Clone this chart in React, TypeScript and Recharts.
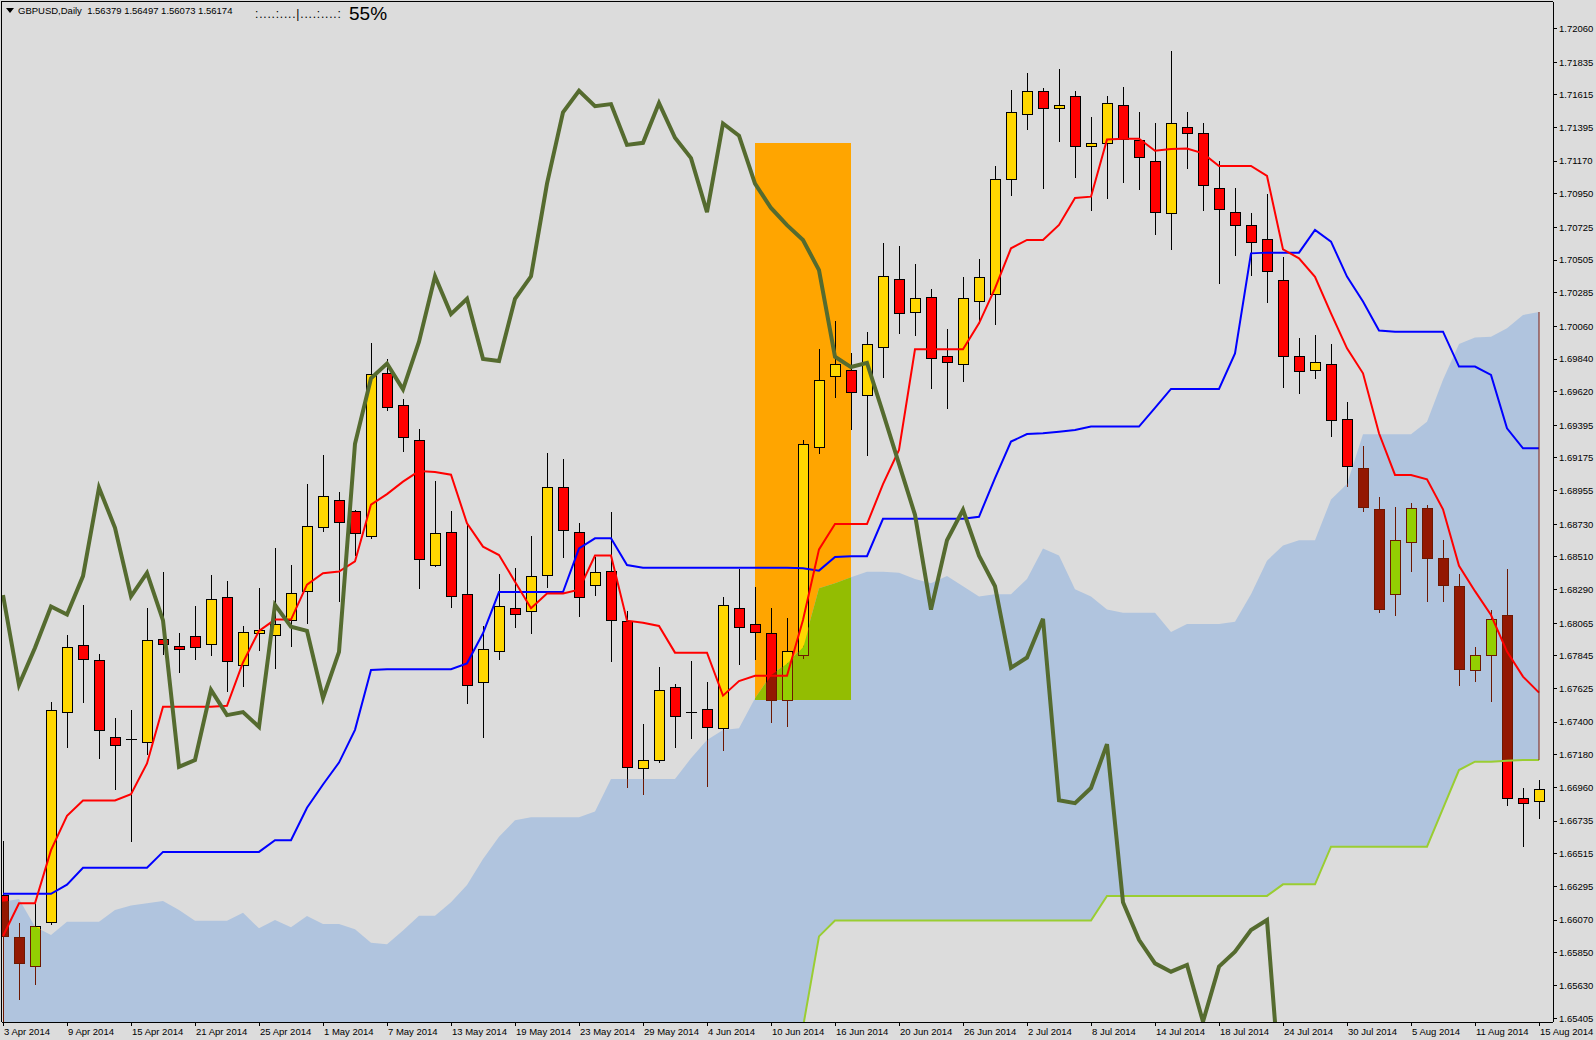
import { ComposedChart, Area, Bar, Line, XAxis, YAxis, ReferenceLine } from 'recharts';

// GBPUSD daily, 3 Apr 2014 .. 15 Aug 2014 (one row per trading day)
const tickLabels = [
  '3 Apr 2014', '9 Apr 2014', '15 Apr 2014', '21 Apr 2014', '25 Apr 2014', '1 May 2014', '7 May 2014',
  '13 May 2014', '19 May 2014', '23 May 2014', '29 May 2014', '4 Jun 2014', '10 Jun 2014', '16 Jun 2014',
  '20 Jun 2014', '26 Jun 2014', '2 Jul 2014', '8 Jul 2014', '14 Jul 2014', '18 Jul 2014', '24 Jul 2014',
  '30 Jul 2014', '5 Aug 2014', '11 Aug 2014', '15 Aug 2014'
];

const priceTicks = [
  1.7206, 1.71835, 1.71615, 1.71395, 1.7117, 1.7095, 1.70725, 1.70505, 1.70285, 1.7006, 1.6984,
  1.6962, 1.69395, 1.69175, 1.68955, 1.6873, 1.6851, 1.6829, 1.68065, 1.67845, 1.67625, 1.674,
  1.6718, 1.6696, 1.66735, 1.66515, 1.66295, 1.6607, 1.6585, 1.6563, 1.65405
];

const open = [
  1.66238, 1.65954, 1.65763, 1.66056, 1.67467, 1.6792, 1.67815, 1.67298, 1.67284, 1.67264,
  1.67957, 1.67911, 1.67976, 1.67928, 1.68239, 1.67787, 1.67999, 1.67985, 1.68084, 1.68282,
  1.68712, 1.68895, 1.68816, 1.68649, 1.69744, 1.69531, 1.69294, 1.68454, 1.68675, 1.68259,
  1.67667, 1.67876, 1.68165, 1.68144, 1.68386, 1.68978, 1.68675, 1.68319, 1.68413, 1.68079,
  1.67089, 1.67143, 1.67634, 1.67463, 1.67486, 1.67358, 1.68165, 1.68057, 1.67997, 1.67549,
  1.67853, 1.69247, 1.69724, 1.69766, 1.69596, 1.69921, 1.70376, 1.70154, 1.70255, 1.69858,
  1.69807, 1.70228, 1.70275, 1.71048, 1.71484, 1.71639, 1.71525, 1.71605, 1.71269, 1.7129,
  1.71545, 1.71312, 1.71169, 1.70819, 1.71402, 1.71357, 1.70987, 1.70826, 1.70739, 1.70644,
  1.70369, 1.69858, 1.69764, 1.69804, 1.69435, 1.69105, 1.68834, 1.68259, 1.68608, 1.68841,
  1.68505, 1.68313, 1.67752, 1.67848, 1.6812, 1.66888, 1.6687
];
const high = [
  1.66603, 1.6605, 1.66193, 1.67532, 1.67985, 1.68189, 1.67857, 1.67428, 1.67481, 1.68169,
  1.68409, 1.67999, 1.6818, 1.68389, 1.68347, 1.68047, 1.68302, 1.6857, 1.68457, 1.69,
  1.69192, 1.68946, 1.68826, 1.69945, 1.69843, 1.6957, 1.6937, 1.6902, 1.68819, 1.68725,
  1.68046, 1.68395, 1.68433, 1.68651, 1.69211, 1.69168, 1.68736, 1.68512, 1.68812, 1.68147,
  1.67387, 1.6777, 1.67654, 1.67811, 1.6767, 1.68243, 1.68431, 1.68308, 1.68167, 1.68098,
  1.69296, 1.69907, 1.70096, 1.69878, 1.70019, 1.7062, 1.706, 1.70479, 1.70311, 1.70042,
  1.70391, 1.70512, 1.71135, 1.71646, 1.71762, 1.71661, 1.71789, 1.71641, 1.71467, 1.71608,
  1.71668, 1.71502, 1.71426, 1.7191, 1.715, 1.71426, 1.71171, 1.70989, 1.70821, 1.70949,
  1.70526, 1.69981, 1.70004, 1.69941, 1.69551, 1.69255, 1.68916, 1.68848, 1.68875, 1.6886,
  1.68622, 1.68396, 1.67902, 1.68156, 1.68429, 1.66955, 1.67011
];
const low = [
  1.653, 1.65541, 1.6564, 1.6604, 1.67235, 1.67532, 1.67156, 1.66952, 1.66599, 1.67185,
  1.67857, 1.67736, 1.67824, 1.67849, 1.67611, 1.67645, 1.67886, 1.67767, 1.67914, 1.68064,
  1.68686, 1.68217, 1.68522, 1.68635, 1.69498, 1.69224, 1.68303, 1.6845, 1.68176, 1.67526,
  1.67302, 1.67826, 1.68041, 1.67997, 1.68306, 1.68507, 1.68115, 1.68254, 1.67813, 1.66966,
  1.66915, 1.67134, 1.67235, 1.67295, 1.66973, 1.67215, 1.6779, 1.67826, 1.674, 1.67375,
  1.6783, 1.69206, 1.69587, 1.69368, 1.69195, 1.69722, 1.70017, 1.70004, 1.69648, 1.69513,
  1.69695, 1.7008, 1.70078, 1.70945, 1.71384, 1.70992, 1.71307, 1.71066, 1.70842, 1.70924,
  1.71032, 1.70985, 1.70683, 1.70582, 1.71126, 1.70844, 1.70353, 1.70541, 1.70407, 1.70225,
  1.69654, 1.6961, 1.69715, 1.69325, 1.6899, 1.6882, 1.68142, 1.68122, 1.68416, 1.68211,
  1.68211, 1.67649, 1.67677, 1.6754, 1.66843, 1.66568, 1.66754
];
const close = [
  1.65965, 1.65779, 1.66028, 1.67481, 1.67908, 1.67826, 1.67346, 1.67247, 1.67288, 1.67951,
  1.67928, 1.67894, 1.67908, 1.68225, 1.67809, 1.68005, 1.68019, 1.68061, 1.68265, 1.68717,
  1.68918, 1.68748, 1.68669, 1.69738, 1.69518, 1.69314, 1.68494, 1.68669, 1.68245, 1.67647,
  1.67889, 1.68178, 1.68124, 1.6838, 1.68978, 1.68689, 1.68238, 1.68407, 1.68084, 1.67096,
  1.67143, 1.67614, 1.67441, 1.67465, 1.67365, 1.68185, 1.68037, 1.68003, 1.67551, 1.67876,
  1.69267, 1.69697, 1.69804, 1.69618, 1.69939, 1.70396, 1.70147, 1.70248, 1.69845, 1.69818,
  1.70248, 1.70389, 1.71048, 1.71498, 1.71639, 1.71525, 1.71545, 1.71269, 1.7129, 1.71558,
  1.71321, 1.71196, 1.70826, 1.71424, 1.71357, 1.71007, 1.70846, 1.70739, 1.70624, 1.70429,
  1.69858, 1.69757, 1.69818, 1.6943, 1.69121, 1.68845, 1.68163, 1.68622, 1.68841, 1.68505,
  1.6832, 1.67759, 1.67848, 1.68094, 1.66888, 1.66855, 1.66949
];

const tenkan = [
  1.65963, 1.66183, 1.66183, 1.6654, 1.6677, 1.66873, 1.66873, 1.66873, 1.66916, 1.67122,
  1.67504, 1.67504, 1.67504, 1.67504, 1.6751, 1.67801, 1.68013, 1.68089, 1.68089, 1.68324,
  1.68401, 1.68412, 1.6848, 1.68862, 1.68932, 1.69016, 1.69087, 1.69081, 1.69063, 1.68736,
  1.68579, 1.68523, 1.68344, 1.68165, 1.68265, 1.68265, 1.6829, 1.68519, 1.68519, 1.68082,
  1.68068, 1.68046, 1.67867, 1.67867, 1.67867, 1.67578, 1.67676, 1.67712, 1.67712, 1.67712,
  1.68086, 1.68561, 1.68731, 1.68731, 1.68731, 1.69, 1.69229, 1.69905, 1.69905, 1.69905,
  1.69905, 1.7008, 1.70315, 1.70584, 1.7064, 1.7064, 1.70741, 1.70922, 1.70931, 1.71316,
  1.71321, 1.71321, 1.7124, 1.71251, 1.71254, 1.71222, 1.71137, 1.71137, 1.71137, 1.7107,
  1.70577, 1.70517, 1.70393, 1.70147, 1.69912, 1.69744, 1.69341, 1.69061, 1.69061, 1.69032,
  1.6883, 1.6845, 1.6828, 1.6812, 1.67874, 1.67706, 1.67598
];
const kijun = [
  1.66246, 1.66246, 1.66246, 1.66246, 1.66308, 1.66421, 1.66421, 1.66421, 1.66421, 1.66421,
  1.66528, 1.66528, 1.66528, 1.66528, 1.66528, 1.66528, 1.66528, 1.66607, 1.66607, 1.66825,
  1.66981, 1.67128, 1.67348, 1.6775, 1.67755, 1.67755, 1.67755, 1.67755, 1.67755, 1.67795,
  1.67997, 1.68274, 1.68274, 1.68274, 1.68274, 1.68274, 1.68568, 1.68635, 1.68635, 1.68456,
  1.68438, 1.68438, 1.68438, 1.68438, 1.68438, 1.68438, 1.68438, 1.68438, 1.68438, 1.68438,
  1.68434, 1.68418, 1.6851, 1.68515, 1.68515, 1.68766, 1.68766, 1.68766, 1.68766, 1.68766,
  1.68766, 1.6878, 1.6904, 1.69285, 1.69336, 1.69341, 1.69352, 1.69363, 1.69386, 1.69386,
  1.69386, 1.69386, 1.69512, 1.69639, 1.69639, 1.69639, 1.69639, 1.69878, 1.7055, 1.70555,
  1.70555, 1.70555, 1.70707, 1.70629, 1.70394, 1.70226, 1.70031, 1.70024, 1.70024, 1.70024,
  1.70024, 1.69789, 1.69789, 1.69733, 1.69374, 1.6924, 1.6924
];
// lagging line, drawn from the first bar up to bar 80
const chikou = [
  1.68254, 1.67651, 1.679, 1.68177, 1.68123, 1.68381, 1.68975, 1.68706, 1.68245, 1.68403,
  1.68084, 1.671, 1.67145, 1.67617, 1.67447, 1.67467, 1.67368, 1.68188, 1.68041, 1.68013,
  1.67561, 1.67872, 1.69271, 1.6971, 1.69809, 1.69636, 1.69957, 1.70396, 1.70142, 1.70245,
  1.69841, 1.69827, 1.70245, 1.70396, 1.71019, 1.71498, 1.71642, 1.71539, 1.71553, 1.71279,
  1.71293, 1.7156, 1.71327, 1.7119, 1.70827, 1.71423, 1.71341, 1.71019, 1.70855, 1.7074,
  1.7064, 1.70437, 1.69855, 1.69786, 1.69814, 1.69478, 1.69135, 1.68793, 1.68156, 1.68622,
  1.68827, 1.68519, 1.68313, 1.67765, 1.67834, 1.68094, 1.66875, 1.66855, 1.66957, 1.67252,
  1.6619, 1.65937, 1.65779, 1.65723, 1.65768, 1.65387, 1.65757, 1.65857, 1.66003, 1.6607,
  1.647
];
const cloudTop = [
  1.66193, 1.66211, 1.66025, 1.6597, 1.66059, 1.66059, 1.66059, 1.66138, 1.66167, 1.66183,
  1.66198, 1.66138, 1.66066, 1.66066, 1.66066, 1.66119, 1.66014, 1.6607, 1.66021, 1.66097,
  1.66043, 1.66043, 1.66008, 1.65918, 1.65907, 1.65999, 1.66099, 1.66099, 1.6619, 1.66306,
  1.6648, 1.6663, 1.6674, 1.6676, 1.6676, 1.6676, 1.6676, 1.668, 1.67018, 1.67018,
  1.67018, 1.67018, 1.67018, 1.67157, 1.6728, 1.67347, 1.67358, 1.6756, 1.67717, 1.67795,
  1.67907, 1.68299, 1.68333, 1.68373, 1.68411, 1.6841, 1.68403, 1.68362, 1.68334, 1.68382,
  1.68313, 1.68245, 1.68259, 1.68259, 1.68362, 1.68567, 1.68519, 1.68293, 1.68245, 1.68156,
  1.68135, 1.68135, 1.68135, 1.68005, 1.6806, 1.6806, 1.6806, 1.68074, 1.68259, 1.68485,
  1.68587, 1.68622, 1.68622, 1.68896, 1.69, 1.69334, 1.69334, 1.69334, 1.69334, 1.69419,
  1.697, 1.69941, 1.69984, 1.6999, 1.70046, 1.70136, 1.70156
];
const cloudBottom = [
  1.647, 1.647, 1.647, 1.647, 1.647, 1.647, 1.647, 1.647, 1.647, 1.647,
  1.647, 1.647, 1.647, 1.647, 1.647, 1.647, 1.647, 1.647, 1.647, 1.647,
  1.647, 1.647, 1.647, 1.647, 1.647, 1.647, 1.647, 1.647, 1.647, 1.647,
  1.647, 1.647, 1.647, 1.647, 1.647, 1.647, 1.647, 1.647, 1.647, 1.647,
  1.647, 1.647, 1.647, 1.647, 1.647, 1.647, 1.647, 1.647, 1.647, 1.647,
  1.6535, 1.6596, 1.66067, 1.66067, 1.66067, 1.66067, 1.66067, 1.66067, 1.66067, 1.66067,
  1.66067, 1.66067, 1.66067, 1.66067, 1.66067, 1.66067, 1.66067, 1.66067, 1.66067, 1.66232,
  1.66232, 1.66232, 1.66232, 1.66232, 1.66232, 1.66232, 1.66232, 1.66232, 1.66232, 1.66232,
  1.6631, 1.6631, 1.6631, 1.66563, 1.66563, 1.66563, 1.66563, 1.66563, 1.66563, 1.66563,
  1.66821, 1.67078, 1.67134, 1.67134, 1.67141, 1.67145, 1.67145
];
const greenFrom = 49;

// highlighted box (bars 47..53)
const boxStart = 47;
const boxEnd = 53;
const boxLow = 1.67549;
const boxHigh = 1.71292;

const rows = open.map((o, i) => ({
  i,
  o,
  h: high[i],
  l: low[i],
  c: close[i],
  tenkan: tenkan[i],
  kijun: kijun[i],
  chikou: i < chikou.length ? chikou[i] : null,
  kumo: [cloudBottom[i], cloudTop[i]],
  green: i >= greenFrom ? cloudBottom[i] : null
}));

const boxRows = rows
  .filter((r) => r.i >= boxStart && r.i <= boxEnd)
  .map((r) => ({ i: r.i, span: [boxLow, boxHigh] }));
const overlapRows = rows
  .filter((r) => r.i >= boxStart && r.i <= boxEnd)
  .map((r) => ({ i: r.i, span: [boxLow, Math.max(cloudTop[r.i], boxLow)] }));

const BG = '#DCDCDC';
const FONT = '"Liberation Sans", Arial, sans-serif';

function at(arr: number[], t: number) {
  const lo = Math.max(0, Math.min(arr.length - 1, Math.floor(t)));
  const hi = Math.min(arr.length - 1, lo + 1);
  const f = Math.max(0, Math.min(1, t - lo));
  return arr[lo] + (arr[hi] - arr[lo]) * f;
}

function Candle(props: any) {
  const { x, y, width, height, payload } = props;
  if (!payload || !Number.isFinite(y) || !Number.isFinite(height)) return null;
  const { i, o, h, l, c } = payload;
  const top = Math.min(y, y + height);
  const k = Math.abs(height) / (h - l);
  const py = (p: number) => top + (h - p) * k;
  const cx = Math.round(x + width / 2) + 0.5;
  const bTop = Math.round(py(Math.max(o, c)));
  const bBot = Math.round(py(Math.min(o, c)));
  const wTop = Math.round(py(h));
  const wBot = Math.round(py(l));
  const bull = c > o;
  const draw = (fill: string, edge: string) => (
    <>
      <line x1={cx} x2={cx} y1={wTop} y2={wBot + 1} stroke={edge} />
      {bBot - bTop >= 2 ? (
        <rect x={cx - 5} y={bTop + 0.5} width={10} height={bBot - bTop} fill={fill} stroke={edge} />
      ) : (
        <line x1={cx - 5.5} x2={cx + 5.5} y1={bTop + 0.5} y2={bTop + 0.5} stroke={edge} />
      )}
    </>
  );
  const d = 6;
  const pts = [
    [cx - d, py(at(cloudTop, i - 0.375))],
    [cx, py(cloudTop[i])],
    [cx + d, py(at(cloudTop, i + 0.375))],
    [cx + d, py(at(cloudBottom, i + 0.375))],
    [cx, py(cloudBottom[i])],
    [cx - d, py(at(cloudBottom, i - 0.375))]
  ]
    .map((p) => p.join(','))
    .join(' ');
  const id = `kumo-clip-${i}`;
  // inside the cloud MT4 draws the candles with inverted (xor) colours
  return (
    <g shapeRendering="crispEdges">
      <defs>
        <clipPath id={id}>
          <polygon points={pts} />
        </clipPath>
      </defs>
      {draw(bull ? '#FFD700' : '#FF0000', '#000000')}
      <g clipPath={`url(#${id})`}>{draw(bull ? '#93CF02' : '#931802', '#6C1802')}</g>
    </g>
  );
}

function DateTick(props: any) {
  const { x, y, payload } = props;
  const label = tickLabels[Math.round(payload.value / 4)];
  return (
    <text x={x + 1} y={y + 9} fontSize={9.5} fill="#000" textAnchor="start" fontFamily={FONT}>
      {label}
    </text>
  );
}

export default function App() {
  return (
    <div
      style={{
        position: 'absolute',
        left: 0,
        top: 0,
        width: 1596,
        height: 1040,
        background: BG,
        fontFamily: FONT,
        overflow: 'hidden'
      }}
    >
      <ComposedChart
        width={1596}
        height={1040}
        data={rows}
        margin={{ top: 2, right: 0, bottom: 0, left: 2 }}
      >
        <XAxis
          dataKey="i"
          type="number"
          domain={[-0.0625, 96.875]}
          allowDataOverflow
          ticks={tickLabels.map((_, k) => k * 4)}
          interval={0}
          tick={<DateTick />}
          tickSize={4}
          tickMargin={0}
          height={18}
          axisLine={{ stroke: '#000', shapeRendering: 'crispEdges' }}
          tickLine={{ stroke: '#000', shapeRendering: 'crispEdges' }}
        />
        <YAxis
          orientation="right"
          type="number"
          domain={[1.653848, 1.722392]}
          allowDataOverflow
          ticks={priceTicks}
          interval={0}
          width={43}
          tickSize={4}
          tickMargin={2}
          tickFormatter={(v: number) => v.toFixed(5)}
          tick={{ fill: '#000', fontSize: 9.5, fontFamily: FONT }}
          axisLine={{ stroke: '#000', shapeRendering: 'crispEdges' }}
          tickLine={{ stroke: '#000', shapeRendering: 'crispEdges' }}
        />
        <Area
          data={boxRows}
          dataKey="span"
          type="linear"
          stroke="none"
          fill="#FFA500"
          fillOpacity={1}
          isAnimationActive={false}
        />
        <Area
          dataKey="kumo"
          type="linear"
          stroke="none"
          fill="#B0C4DE"
          fillOpacity={1}
          isAnimationActive={false}
        />
        <Area
          data={overlapRows}
          dataKey="span"
          type="linear"
          stroke="none"
          fill="#93BD02"
          fillOpacity={1}
          isAnimationActive={false}
        />
        <Bar
          dataKey={(d: any) => [d.l, d.h]}
          barSize={11}
          shape={(p: any) => <Candle {...p} />}
          isAnimationActive={false}
        />
        <Line dataKey="green" type="linear" stroke="#9ACD32" strokeWidth={2} dot={false} isAnimationActive={false} />
        <Line dataKey="kijun" type="linear" stroke="#0000FF" strokeWidth={2} dot={false} isAnimationActive={false} />
        <Line dataKey="tenkan" type="linear" stroke="#FF0000" strokeWidth={2} dot={false} isAnimationActive={false} />
        <Line dataKey="chikou" type="linear" stroke="#556B2F" strokeWidth={4} dot={false} isAnimationActive={false} />
        <ReferenceLine
          segment={[
            { x: 96, y: cloudTop[96] },
            { x: 96, y: cloudBottom[96] }
          ]}
          stroke="#7A1C12"
          strokeWidth={1}
        />
      </ComposedChart>

      <div
        style={{
          position: 'absolute',
          left: 1,
          top: 1,
          width: 1552,
          height: 1021,
          borderLeft: '1px solid #000',
          borderTop: '1px solid #000',
          boxSizing: 'border-box',
          pointerEvents: 'none'
        }}
      />
      <svg style={{ position: 'absolute', left: 5, top: 8 }} width={10} height={6}>
        <polygon points="1,0 9,0 5,5" fill="#000" />
      </svg>
      <div
        style={{
          position: 'absolute',
          left: 18,
          top: 4,
          fontSize: 9.5,
          lineHeight: '14px',
          color: '#000',
          whiteSpace: 'pre'
        }}
      >
        GBPUSD,Daily  1.56379 1.56497 1.56073 1.56174
      </div>
      <div
        style={{
          position: 'absolute',
          left: 255,
          top: 6,
          fontSize: 12,
          lineHeight: '16px',
          letterSpacing: '0.8px',
          color: '#000',
          whiteSpace: 'pre'
        }}
      >
        :....:....|....:....:
      </div>
      <div
        style={{
          position: 'absolute',
          left: 349,
          top: 2,
          fontSize: 19,
          lineHeight: '24px',
          color: '#000',
          whiteSpace: 'pre'
        }}
      >
        55%
      </div>
    </div>
  );
}
